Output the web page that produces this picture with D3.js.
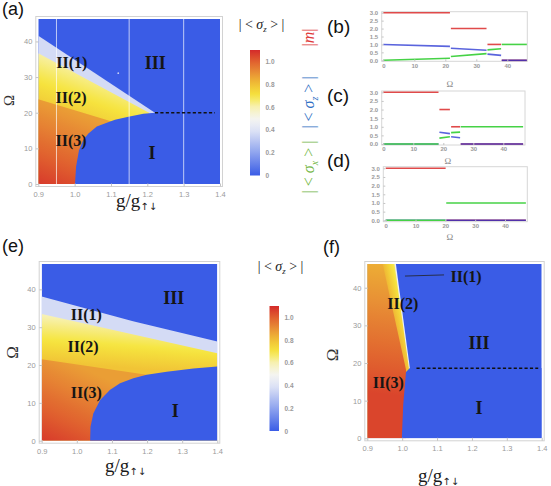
<!DOCTYPE html>
<html>
<head>
<meta charset="utf-8">
<script src="https://d3js.org/d3.v7.min.js"></script>
<style>
  body { margin: 0; background: #fff; }
  svg { display: block; }
  .tk path { display: none; }
  .tk line { stroke: #c4c4c4; }
  .tk text { fill: #9a9a9a; }
</style>
</head>
<body>
<div id="chart"></div>
<script>
/* ── Phase diagrams + cuts — D3 ─────────────────────────── */
(function () {
  "use strict";

  // ── Data ──────────────────────────────────────────
  // colour bar |<σz>|
  const cbValues = [0, 0.2, 0.4, 0.5, 0.6, 0.7, 0.8, 0.9, 1.0, 1.1];
  const cbColours = ["#3a5ce6", "#8fa4ee", "#e0e5f6", "#f5f5f0", "#f7f1b4", "#f6e53e",
    "#f0c035", "#e89035", "#e0602e", "#d42a2a"];
  const cbTicks = [0, 0.2, 0.4, 0.6, 0.8, 1.0];

  const gTicks = [0.9, 1.0, 1.1, 1.2, 1.3, 1.4];
  const omegaTicks = [0, 10, 20, 30, 40];
  const lineYTicks = [0, 0.5, 1.0, 1.5, 2.0, 2.5, 3.0];
  const lineXTicks = [0, 10, 20, 30, 40];

  // panel (a): boundaries as [g/g↑↓, Ω]
  const aEdgeIII = [[0.9, 41.6], [1.221, 20.0]];
  const aEdge12 = [[0.9, 36.7], [1.205, 20.0]];
  const aEdge23 = [[0.9, 23.8], [1.1, 17.6]];
  const aCurveI = [[1.001, 0], [1.004, 4.9], [1.012, 9.5], [1.024, 12.4], [1.038, 14.2],
    [1.061, 16.1], [1.083, 17.0], [1.111, 18.0], [1.148, 18.9], [1.189, 19.7], [1.221, 20.0]];
  const aDash = [[1.221, 20], [1.386, 20]];
  const aCuts = [0.95, 1.15, 1.3];
  const aSpeck = [[1.12, 31.1]];
  const aLabels = [["III", 1.222, 32.3], ["II(1)", 0.992, 32.6], ["II(2)", 0.99, 22.8],
    ["II(3)", 0.99, 10.6], ["I", 1.213, 7.1]];

  // panel (e)
  const eEdgeIII = [[0.9, 38.1], [1.16, 31.6], [1.4, 26.2]];
  const eEdge12 = [[0.9, 33.5], [1.4, 23.1]];
  const eEdge23 = [[0.9, 21.5], [1.199, 17.4]];
  const eCurveI = [[1.038, 0], [1.039, 3.7], [1.047, 7.2], [1.066, 10.7], [1.094, 13.4],
    [1.123, 15.2], [1.161, 16.5], [1.199, 17.4], [1.256, 18.2], [1.332, 19.1], [1.4, 19.6]];
  const eLabels = [["III", 1.276, 36.2], ["II(1)", 1.027, 31.9], ["II(2)", 1.018, 23.5],
    ["II(3)", 1.027, 11.2], ["I", 1.28, 6.3]];

  // panel (f)
  const fEdgeIII = [[0.982, 46.3], [1.022, 18.7]];
  const fEdge12 = [[0.978, 46.3], [1.0195, 18.5]];
  const fEdge23 = [[0.944, 46.3], [1.011, 18.2]];
  const fCurveI = [[0.999, 0], [1.003, 9], [1.011, 17.6], [1.022, 18.7]];
  const fDash = [[1.041, 18.6], [1.39, 18.6]];
  const fPointer = [[1.008, 43.1], [1.12, 43.4]];
  const fLabels = [["II(1)", 1.183, 41.6], ["II(2)", 1.002, 34.3], ["II(3)", 0.96, 13.3],
    ["III", 1.22, 23.6], ["I", 1.22, 6.5]];

  // cuts (b) g=0.95, (c) g=1.15, (d) g=1.3 : segments of [Ω, value]
  const bRed = [[[0, 3], [21.5, 3]], [[21.8, 2], [33.3, 2]], [[33.6, 1], [38, 1]], [[38.2, 0], [46.3, 0]]];
  const bBlue = [[[0, 1.0], [21.5, 0.88]], [[21.8, 0.76], [33.3, 0.63]], [[33.6, 0.39], [38, 0.31]], [[38.2, 0], [46.3, 0]]];
  const bGreen = [[[0, 0], [21.5, 0.13]], [[21.8, 0.24], [33.3, 0.42]], [[33.6, 0.66], [38, 0.73]], [[38.2, 1], [46.3, 1]]];

  const cRed = [[[0, 3], [18.4, 3]], [[18.7, 2], [22.2, 2]], [[22.6, 1], [25.6, 1]], [[25.8, 0], [46.6, 0]]];
  const cBlue = [[[0, 0], [18.4, 0]], [[18.7, 0.68], [22.2, 0.6]], [[22.6, 0.42], [25.6, 0.36]], [[25.8, 0], [46.6, 0]]];
  const cGreen = [[[0, 0], [18.4, 0]], [[18.7, 0.34], [22.2, 0.42]], [[22.6, 0.66], [25.6, 0.69]], [[25.8, 1], [46.6, 1]]];

  const dRed = [[[0, 3], [20.1, 3]], [[20.3, 0], [47, 0]]];
  const dBlue = [[[0, 0], [20.1, 0]], [[20.3, 0], [47, 0]]];
  const dGreen = [[[0, 0], [20.1, 0]], [[20.3, 1], [47, 1]]];

  // ── Setup ─────────────────────────────────────────
  const W = 551, H = 486;
  const SANS = "'Liberation Sans', Arial, sans-serif";
  const SERIF = "'Liberation Serif', 'DejaVu Serif', serif";

  const svg = d3.select("#chart").append("svg")
    .attr("width", W).attr("height", H)
    .attr("viewBox", `0 0 ${W} ${H}`);
  const defs = svg.append("defs");
  svg.append("rect").attr("width", W).attr("height", H).attr("fill", "#fff");

  const cs = d3.scaleLinear().domain(cbValues).range(cbColours).clamp(true);
  const BLUE = cs(0);

  function makeGrad(id, x, y, spec) {
    const lg = defs.append("linearGradient").attr("id", id)
      .attr("gradientUnits", "userSpaceOnUse")
      .attr("x1", x(spec.from[0])).attr("y1", y(spec.from[1]))
      .attr("x2", x(spec.to[0])).attr("y2", y(spec.to[1]));
    d3.range(0, 1.0001, 0.1).forEach((t) => {
      lg.append("stop").attr("offset", t)
        .attr("stop-color", cs(spec.v[0] + (spec.v[1] - spec.v[0]) * t));
    });
    return `url(#${id})`;
  }

  function styleAxis(sel, size, weight) {
    sel.attr("font-family", SANS).attr("font-size", size);
    sel.selectAll("text").attr("font-weight", weight || "normal");
  }

  // ── Heat-map panels ───────────────────────────────
  function heatPanel(cfg) {
    const x = d3.scaleLinear().domain([0.9, 1.4]).range(cfg.xRange);
    const y = d3.scaleLinear().domain([0, cfg.omegaMax]).range(cfg.yRange);
    const g = svg.append("g");
    const line = d3.line().x((d) => x(d[0])).y((d) => y(d[1]));

    defs.append("clipPath").attr("id", "clip-" + cfg.id)
      .append("rect")
      .attr("x", x(0.9)).attr("y", y(cfg.omegaMax))
      .attr("width", x(1.4) - x(0.9)).attr("height", y(0) - y(cfg.omegaMax));

    const body = g.append("g").attr("clip-path", `url(#clip-${cfg.id})`);
    body.append("rect")
      .attr("x", x(0.9)).attr("y", y(cfg.omegaMax))
      .attr("width", x(1.4) - x(0.9)).attr("height", y(0) - y(cfg.omegaMax))
      .attr("fill", BLUE);

    const lowerLeft = (edge) => [[0.9, 0], [0.9, edge[0][1]], ...edge, [edge[edge.length - 1][0], 0]];

    body.append("path").attr("d", line(lowerLeft(cfg.edgeIII)) + "Z")
      .attr("fill", cs(cfg.valII1));
    body.append("path").attr("d", line(lowerLeft(cfg.edge12)) + "Z")
      .attr("fill", makeGrad("g2-" + cfg.id, x, y, cfg.gradII2));
    body.append("path").attr("d", line(lowerLeft(cfg.edge23)) + "Z")
      .attr("fill", makeGrad("g3-" + cfg.id, x, y, cfg.gradII3));

    const last = cfg.curveI[cfg.curveI.length - 1];
    body.append("path")
      .attr("d", line([...cfg.curveI, [1.4, last[1]], [1.4, 0]]) + "Z")
      .attr("fill", BLUE);

    if (cfg.cuts) {
      body.selectAll(".cut").data(cfg.cuts).enter().append("line")
        .attr("x1", (d) => x(d)).attr("x2", (d) => x(d))
        .attr("y1", y(0)).attr("y2", y(cfg.omegaMax))
        .attr("stroke", "#ffffff").attr("stroke-opacity", 0.75).attr("stroke-width", 0.9);
    }
    if (cfg.specks) {
      body.selectAll(".speck").data(cfg.specks).enter().append("circle")
        .attr("cx", (d) => x(d[0])).attr("cy", (d) => y(d[1])).attr("r", 0.9)
        .attr("fill", "#c8d0f4");
    }
    if (cfg.dash) {
      body.append("path").attr("d", line(cfg.dash))
        .attr("stroke", "#111").attr("stroke-width", 1.4)
        .attr("stroke-dasharray", "3.2 2.2").attr("fill", "none");
    }
    if (cfg.pointer) {
      g.append("path").attr("d", line(cfg.pointer))
        .attr("stroke", "#222").attr("stroke-width", 0.8).attr("fill", "none");
    }

    // frame
    const pad = 2.5;
    const fx0 = x(0.9) - pad, fx1 = x(1.4) + pad;
    const fy0 = y(cfg.omegaMax) - pad, fy1 = y(0) + pad;
    g.append("rect").attr("x", fx0).attr("y", fy0)
      .attr("width", fx1 - fx0).attr("height", fy1 - fy0)
      .attr("fill", "none").attr("stroke", "#d2d2d2").attr("stroke-width", 1);

    g.append("g").attr("class", "tk").attr("transform", `translate(0,${fy1})`)
      .call(d3.axisBottom(x).tickValues(gTicks).tickFormat(d3.format(".1f"))
        .tickSizeInner(-3).tickSizeOuter(0).tickPadding(cfg.xPad))
      .call(styleAxis, 7.5);
    g.append("g").attr("class", "tk").attr("transform", `translate(${fx0},0)`)
      .call(d3.axisLeft(y).tickValues(omegaTicks).tickFormat(d3.format("d"))
        .tickSizeInner(-3).tickSizeOuter(0).tickPadding(cfg.yPad))
      .call(styleAxis, 7.5);

    // region labels
    g.selectAll(".rl").data(cfg.labels).enter().append("text")
      .attr("x", (d) => x(d[1])).attr("y", (d) => y(d[2]))
      .attr("text-anchor", "middle")
      .attr("font-family", SERIF).attr("font-weight", "bold")
      .attr("font-size", (d) => (d[0] === "III" || d[0] === "I") ? 18 : 16)
      .attr("fill", "#151515")
      .text((d) => d[0]);

    // axis titles
    const xt = g.append("text").attr("x", cfg.xTitle[0]).attr("y", cfg.xTitle[1])
      .attr("font-family", SERIF).attr("font-size", 19).attr("fill", "#1a1a1a");
    xt.append("tspan").text("g/g");
    xt.append("tspan").attr("font-size", 10).attr("dy", 3).attr("font-family", "'DejaVu Sans', sans-serif")
      .text("\u2191\u2193");

    g.append("text")
      .attr("transform", `translate(${cfg.yTitle[0]},${cfg.yTitle[1]}) rotate(-90)`)
      .attr("text-anchor", "middle")
      .attr("font-family", SERIF).attr("font-size", cfg.yTitle[2]).attr("fill", "#333")
      .text("\u03A9");

    svg.append("text").attr("x", cfg.tag[0]).attr("y", cfg.tag[1])
      .attr("font-family", SANS).attr("font-size", 18).attr("fill", "#111")
      .text(cfg.tag[2]);
  }

  // ── Colour bars ───────────────────────────────────
  function sigmaText(sel, sub, size) {
    const sh = size * 0.22;
    sel.append("tspan").text("| < ");
    sel.append("tspan").attr("font-style", "italic").text("\u03C3");
    sel.append("tspan").attr("font-style", "italic").attr("font-size", size * 0.62)
      .attr("dy", sh).text(sub);
    sel.append("tspan").attr("dy", -sh).text(" > |");
  }

  const cbGrad = defs.append("linearGradient").attr("id", "cbgrad")
    .attr("x1", 0).attr("y1", 1).attr("x2", 0).attr("y2", 0);
  d3.range(0, 1.0001, 0.05).forEach((t) => {
    cbGrad.append("stop").attr("offset", t).attr("stop-color", cs(t * 1.1));
  });

  function colourBar(cfg) {
    const y = d3.scaleLinear().domain([0, 1.1]).range(cfg.yRange);
    const g = svg.append("g");
    g.append("rect").attr("x", cfg.x).attr("y", y(1.1))
      .attr("width", cfg.w).attr("height", y(0) - y(1.1))
      .attr("fill", "url(#cbgrad)");
    g.append("g").attr("class", "tk").attr("transform", `translate(${cfg.x + cfg.w},0)`)
      .call(d3.axisRight(y).tickValues(cbTicks)
        .tickFormat((d) => d === 0 ? "0" : d3.format(".1f")(d))
        .tickSize(0).tickPadding(5.5))
      .call(styleAxis, 6.5, "bold");
    const t = g.append("text").attr("x", cfg.title[0]).attr("y", cfg.title[1])
      .attr("text-anchor", "middle")
      .attr("font-family", SERIF).attr("font-size", 14).attr("fill", "#222");
    sigmaText(t, "z", 14);
  }

  // ── Cut panels ────────────────────────────────────
  function cutPanel(cfg) {
    const x = d3.scaleLinear().domain([0, 40]).range(cfg.xRange);
    const y = d3.scaleLinear().domain([0, 3]).range(cfg.yRange);
    const g = svg.append("g");
    const line = d3.line().x((d) => x(d[0])).y((d) => y(d[1]));
    const [fx0, fy0, fx1, fy1] = cfg.frame;

    g.append("rect").attr("x", fx0).attr("y", fy0)
      .attr("width", fx1 - fx0).attr("height", fy1 - fy0)
      .attr("fill", "none").attr("stroke", "#d6d6d6").attr("stroke-width", 1);

    const series = [
      { data: cfg.red, colour: "#e04a4a", opacity: 1 },
      { data: cfg.blue, colour: "#1a28d0", opacity: 0.72 },
      { data: cfg.green, colour: "#46d246", opacity: 1 },
    ];
    series.forEach((s) => {
      g.selectAll(null).data(s.data).enter().append("path")
        .attr("d", line).attr("fill", "none")
        .attr("stroke", s.colour).attr("stroke-opacity", s.opacity)
        .attr("stroke-width", 1.6);
    });

    g.append("g").attr("class", "tk").attr("transform", `translate(0,${fy1})`)
      .call(d3.axisBottom(x).tickValues(lineXTicks).tickFormat(d3.format("d"))
        .tickSizeInner(-2).tickSizeOuter(0).tickPadding(2))
      .call(styleAxis, 6, "bold");
    g.append("g").attr("class", "tk").attr("transform", `translate(${fx0},0)`)
      .call(d3.axisLeft(y).tickValues(lineYTicks).tickFormat(d3.format(".1f"))
        .tickSizeInner(-2).tickSizeOuter(0).tickPadding(3.5))
      .call(styleAxis, 6, "bold");

    g.append("text").attr("x", x(21.5)).attr("y", cfg.omegaY)
      .attr("text-anchor", "middle").attr("font-family", SERIF)
      .attr("font-size", 9).attr("fill", "#888").text("\u03A9");

    svg.append("text").attr("x", cfg.tag[0]).attr("y", cfg.tag[1])
      .attr("font-family", SANS).attr("font-size", 19).attr("fill", "#111")
      .text(cfg.tag[2]);
  }

  // ── Draw ──────────────────────────────────────────
  heatPanel({
    id: "a", xRange: [38.3, 220], omegaMax: 46.3, yRange: [184, 19],
    edgeIII: aEdgeIII, edge12: aEdge12, edge23: aEdge23, curveI: aCurveI,
    valII1: 0.37,
    gradII2: { from: [0.95, 36], to: [0.9, 22], v: [0.6, 0.78] },
    gradII3: { from: [0.9, 0], to: [0.98, 21], v: [1.07, 0.87] },
    cuts: aCuts, specks: aSpeck, dash: aDash, labels: aLabels,
    xPad: 5, yPad: 3.5,
    xTitle: [116, 206.5], yTitle: [14, 100.5, 15], tag: [2, 15, "(a)"],
  });

  heatPanel({
    id: "e", xRange: [41.7, 217.3], omegaMax: 46.7, yRange: [440.7, 264],
    edgeIII: eEdgeIII, edge12: eEdge12, edge23: eEdge23, curveI: eCurveI,
    valII1: 0.37,
    gradII2: { from: [0.91, 33], to: [0.9, 21], v: [0.6, 0.79] },
    gradII3: { from: [0.9, 0], to: [1.0, 20], v: [1.07, 0.87] },
    labels: eLabels,
    xPad: 5, yPad: 3.5,
    xTitle: [105, 472], yTitle: [18, 352.5, 17], tag: [2, 252, "(e)"],
  });

  heatPanel({
    id: "f", xRange: [367.3, 541.7], omegaMax: 46.3, yRange: [438.3, 264],
    edgeIII: fEdgeIII, edge12: fEdge12, edge23: fEdge23, curveI: fCurveI,
    valII1: 0.46,
    gradII2: { from: [0.944, 46.3], to: [0.9786, 47.0], v: [0.82, 0.66] },
    gradII3: { from: [0.92, 12], to: [0.96, 46], v: [1.05, 0.84] },
    dash: fDash, pointer: fPointer, labels: fLabels,
    xPad: 5, yPad: 3.5,
    xTitle: [418, 481.5], yTitle: [338, 355, 17], tag: [323, 253, "(f)"],
  });

  colourBar({ x: 250, w: 10, yRange: [175.5, 50], title: [261.5, 29] });
  colourBar({ x: 269.5, w: 9.5, yRange: [431, 306], title: [280.5, 271] });

  cutPanel({
    xRange: [383.3, 507.3], yRange: [60.3, 12.7], frame: [381.7, 11.7, 527.3, 61.3],
    red: bRed, blue: bBlue, green: bGreen, omegaY: 87, tag: [327, 33, "(b)"],
  });
  cutPanel({
    xRange: [383.3, 503.3], yRange: [144, 92.3], frame: [381.7, 91, 525, 145],
    red: cRed, blue: cBlue, green: cGreen, omegaY: 164, tag: [327, 101.5, "(c)"],
  });
  cutPanel({
    xRange: [385.7, 505], yRange: [220.3, 168.3], frame: [383.3, 166.7, 527.3, 221.7],
    red: dRed, blue: dBlue, green: dGreen, omegaY: 240, tag: [327, 167, "(d)"],
  });

  // vertical colour key for the cuts
  const keys = [
    { sub: "x", colour: "#76b84a", cy: 167, kind: "sigma" },
    { sub: "z", colour: "#2f6fc4", cy: 102.5, kind: "sigma" },
    { sub: "", colour: "#e03a3a", cy: 37.5, kind: "m" },
  ];
  keys.forEach((k) => {
    const t = svg.append("text")
      .attr("transform", `translate(314,${k.cy}) rotate(-90)`)
      .attr("text-anchor", "middle")
      .attr("font-family", SERIF).attr("font-size", 16).attr("fill", k.colour);
    if (k.kind === "m") {
      t.append("tspan").text("|");
      t.append("tspan").attr("font-style", "italic").text("m");
      t.append("tspan").text("|");
    } else {
      sigmaText(t, k.sub, 16);
    }
  });
})();
</script>
</body>
</html>
